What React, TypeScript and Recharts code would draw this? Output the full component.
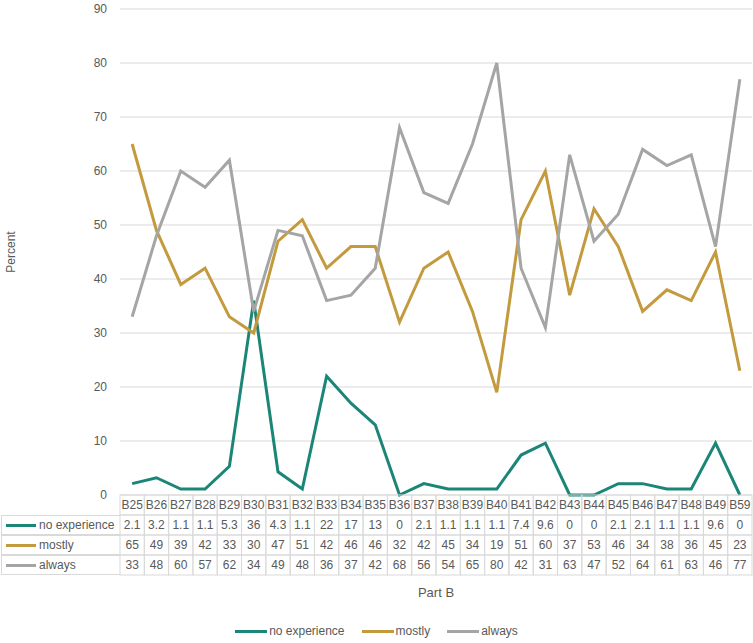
import React from 'react';
import { LineChart, Line, XAxis, YAxis, CartesianGrid } from 'recharts';

const categories = ['B25', 'B26', 'B27', 'B28', 'B29', 'B30', 'B31', 'B32', 'B33', 'B34', 'B35', 'B36', 'B37', 'B38', 'B39', 'B40', 'B41', 'B42', 'B43', 'B44', 'B45', 'B46', 'B47', 'B48', 'B49', 'B59'];
const noExperience = [2.1, 3.2, 1.1, 1.1, 5.3, 36, 4.3, 1.1, 22, 17, 13, 0, 2.1, 1.1, 1.1, 1.1, 7.4, 9.6, 0, 0, 2.1, 2.1, 1.1, 1.1, 9.6, 0];
const mostly = [65, 49, 39, 42, 33, 30, 47, 51, 42, 46, 46, 32, 42, 45, 34, 19, 51, 60, 37, 53, 46, 34, 38, 36, 45, 23];
const always = [33, 48, 60, 57, 62, 34, 49, 48, 36, 37, 42, 68, 56, 54, 65, 80, 42, 31, 63, 47, 52, 64, 61, 63, 46, 77];
const yTicks = [0, 10, 20, 30, 40, 50, 60, 70, 80, 90];

const SERIES = [
  { key: 'noExperience', name: 'no experience', color: '#1b8577', values: noExperience },
  { key: 'mostly', name: 'mostly', color: '#c39a3d', values: mostly },
  { key: 'always', name: 'always', color: '#a5a5a5', values: always },
];

const W = 753;
const H = 643;
const PLOT_LEFT = 120;
const PLOT_RIGHT = 752;
const PLOT_TOP = 9;
const PLOT_BOTTOM = 495;
const COL_W = (PLOT_RIGHT - PLOT_LEFT) / categories.length;
const ROW_H = 20;
const TEXT = '#595959';
const BORDER = '#d9d9d9';
const FONT = '"Liberation Sans", Arial, sans-serif';

const data = categories.map((c, i) => ({
  name: c,
  noExperience: noExperience[i],
  mostly: mostly[i],
  always: always[i],
}));

// x-axis tick draws one column of the data table
const TableTick = (props: any) => {
  const { x, y, payload, index } = props;
  const left = x - COL_W / 2;
  const i = index ?? categories.indexOf(payload.value);
  return (
    <g>
      {[0, 1, 2, 3].map(r => (
        <rect key={r} x={left} y={y + r * ROW_H} width={COL_W} height={ROW_H} fill="none" stroke={BORDER} strokeWidth={1} />
      ))}
      <text x={x} y={y + ROW_H / 2 + 4} textAnchor="middle" fill={TEXT} fontSize={12} fontFamily={FONT}>{payload.value}</text>
      {SERIES.map((s, r) => (
        <text key={s.key} x={x} y={y + (r + 1) * ROW_H + ROW_H / 2 + 4} textAnchor="middle" fill={TEXT} fontSize={12} fontFamily={FONT}>
          {s.values[i]}
        </text>
      ))}
    </g>
  );
};

export default function App() {
  return (
    <div style={{ position: 'absolute', left: 0, top: 0, width: W, height: H, background: '#fff', fontFamily: FONT }}>
      <LineChart
        width={W}
        height={H}
        data={data}
        margin={{ top: PLOT_TOP, right: W - PLOT_RIGHT, left: 60, bottom: H - PLOT_BOTTOM - ROW_H * 4 }}
      >
        <CartesianGrid vertical={false} stroke={BORDER} strokeWidth={1} />
        <XAxis
          dataKey="name"
          height={ROW_H * 4}
          axisLine={false}
          tickLine={false}
          tickSize={0}
          tickMargin={0}
          interval={0}
          padding={{ left: COL_W / 2, right: COL_W / 2 }}
          tick={<TableTick />}
        />
        <YAxis
          width={60}
          domain={[0, 90]}
          ticks={yTicks}
          axisLine={false}
          tickLine={false}
          tickSize={0}
          tickMargin={13}
          tick={{ fill: TEXT, fontSize: 12, fontFamily: FONT }}
        />
        {SERIES.map(s => (
          <Line
            key={s.key}
            type="linear"
            dataKey={s.key}
            name={s.name}
            stroke={s.color}
            strokeWidth={3}
            dot={false}
            activeDot={false}
            isAnimationActive={false}
          />
        ))}
      </LineChart>

      {/* row labels of the data table */}
      {SERIES.map((s, r) => (
        <div
          key={s.key}
          style={{
            position: 'absolute', left: 1, top: PLOT_BOTTOM + (r + 1) * ROW_H, width: PLOT_LEFT - 1, height: ROW_H,
            boxSizing: 'border-box', border: `1px solid ${BORDER}`, borderRight: 'none',
            display: 'flex', alignItems: 'center', fontSize: 12, color: TEXT,
          }}
        >
          <span style={{ display: 'inline-block', width: 30, height: 3, background: s.color, marginLeft: 4, marginRight: 3 }} />
          {s.name}
        </div>
      ))}

      {/* axis titles */}
      <div style={{ position: 'absolute', left: 11, top: (PLOT_TOP + PLOT_BOTTOM) / 2, transform: 'translate(-50%, -50%) rotate(-90deg)', fontSize: 12, color: TEXT, whiteSpace: 'nowrap' }}>
        Percent
      </div>
      <div style={{ position: 'absolute', left: (PLOT_LEFT + PLOT_RIGHT) / 2, top: 592, transform: 'translate(-50%, -50%)', fontSize: 13, color: TEXT }}>
        Part B
      </div>

      {/* legend */}
      <div style={{ position: 'absolute', left: 0, width: W, top: 624, display: 'flex', justifyContent: 'center', fontSize: 12, color: TEXT, gap: 17 }}>
        {SERIES.map(s => (
          <div key={s.key} style={{ display: 'flex', alignItems: 'center' }}>
            <span style={{ display: 'inline-block', width: 32, height: 3, background: s.color, marginRight: 2 }} />
            {s.name}
          </div>
        ))}
      </div>
    </div>
  );
}
